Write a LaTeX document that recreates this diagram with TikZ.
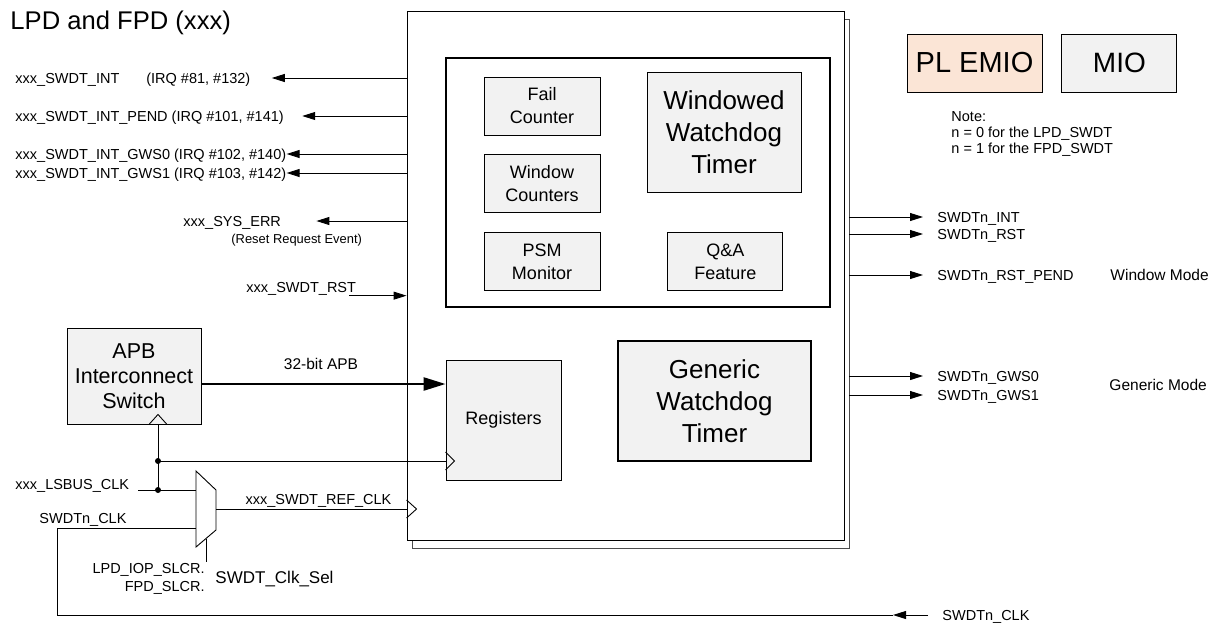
\documentclass[tikz,border=0pt]{standalone}
\usepackage{fontspec}
\setmainfont{Liberation Sans}
\usetikzlibrary{positioning,calc,arrows.meta}
\definecolor{boxgray}{HTML}{F2F2F2}
\definecolor{emiopeach}{HTML}{FBE5D6}

\begin{document}
\begin{tikzpicture}[x=1pt, y=-1pt, line width=0.9pt,
  every node/.style={font=\fontsize{14.5}{17}\selectfont},
  blk/.style={draw, fill=boxgray, align=center, inner sep=0pt, font=\fontsize{18}{23}\selectfont},
  sub/.style={blk, minimum width=116pt, minimum height=58pt},
  lbl/.style={inner sep=0pt, text height=10.4pt, text depth=0pt},
  arr/.style={-{Triangle[length=13pt,width=8pt]}},
  bus/.style={line width=2.5pt, -{Triangle[length=22pt,width=13pt]}}]
  \useasboundingbox (0,0) rectangle (1222,624);
  \node[lbl, anchor=west, font=\fontsize{25.6}{30}\selectfont, text height=18.2pt] (title) at (10,20) {LPD and FPD (xxx)};

  \node[draw=black!70, minimum width=437pt, minimum height=529pt] (mainbk) at (630.5,283.5) {};
  \node[draw, fill=white, minimum width=437pt, minimum height=529pt] (main) at (625.5,275.5) {};
  \node[draw, line width=1.8pt, minimum width=384pt, minimum height=249pt] (wwin) at (638,182.5) {};
  \node[sub] (failc) at (542,106) {Fail\\Counter};
  \node[sub, below=19pt of failc] (winc) {Window\\Counters};
  \node[sub, below=19pt of winc] (psm) {PSM\\Monitor};
  \node[sub, minimum width=115pt, right=67pt of psm] (qa) {Q\&A\\Feature};
  \node[blk, minimum width=154pt, minimum height=120pt, font=\fontsize{26}{32}\selectfont] (wwdt) at (724,132) {Windowed\\Watchdog\\Timer};
  \node[blk, minimum width=115pt, minimum height=120pt] (reg) at (503.5,420) {Registers};
  \node[blk, line width=1.8pt, minimum width=193pt, minimum height=120pt, font=\fontsize{26}{32}\selectfont] (gwdt) at (714.5,401) {Generic\\Watchdog\\Timer};
  \node[blk, minimum width=134pt, minimum height=96pt, font=\fontsize{21.5}{25}\selectfont] (apb) at (134,376) {APB\\Interconnect\\Switch};
  \node[blk, fill=emiopeach, minimum width=135pt, minimum height=58pt, font=\fontsize{29}{34}\selectfont] (emio) at (974.5,63) {PL EMIO};
  \node[blk, minimum width=115pt, minimum height=58pt, font=\fontsize{28}{34}\selectfont, right=19pt of emio] (mio) {MIO};
  \node[anchor=west, align=left, inner sep=0pt, font=\fontsize{14.5}{16}\selectfont] (note) at (951,134) {Note:\\n = 0 for the LPD\_SWDT\\n = 1 for the FPD\_SWDT};

  \node[lbl, anchor=west] (iINT) at (15,78) {xxx\_SWDT\_INT\hspace{27pt}(IRQ \#81, \#132)};
  \node[lbl, anchor=west] (iPEND) at (15,116) {xxx\_SWDT\_INT\_PEND (IRQ \#101, \#141)};
  \node[lbl, anchor=west] (iGWS0) at (15,154) {xxx\_SWDT\_INT\_GWS0 (IRQ \#102, \#140)};
  \node[lbl, anchor=west] (iGWS1) at (15,173) {xxx\_SWDT\_INT\_GWS1 (IRQ \#103, \#142)};
  \node[lbl, anchor=west] (iERR) at (183,221) {xxx\_SYS\_ERR};
  \node[lbl, anchor=west, font=\fontsize{12.9}{15}\selectfont, text height=9.2pt] (iREQ) at (231,239) {(Reset Request Event)};
  \node[lbl, anchor=west] (iRST) at (246,287) {xxx\_SWDT\_RST};
  \draw[arr, shorten >=21pt] (main.west |- iINT) -- (iINT.east);
  \draw[arr, shorten >=18pt] (main.west |- iPEND) -- (iPEND.east);
  \draw[arr] (main.west |- iGWS0) -- (iGWS0.east);
  \draw[arr] (main.west |- iGWS1) -- (iGWS1.east);
  \draw[arr, shorten >=35pt] (main.west |- iERR) -- (iERR.east);
  \coordinate (rstA) at ($(iRST.south east)+(-7,3)$);
  \draw[arr] (rstA) -- (rstA -| main.west);

  \node[lbl, anchor=west] (oINT) at (937,217) {SWDTn\_INT};
  \node[lbl, anchor=west] (oRST) at (937,234) {SWDTn\_RST};
  \node[lbl, anchor=west] (oPEND) at (937,275) {SWDTn\_RST\_PEND};
  \node[lbl, anchor=west] (oGWS0) at (937,376) {SWDTn\_GWS0};
  \node[lbl, anchor=west] (oGWS1) at (937,395) {SWDTn\_GWS1};
  \node[lbl, anchor=west, font=\fontsize{15.5}{18}\selectfont, text height=11.1pt] (wmode) at (1110,275) {Window Mode};
  \node[lbl, anchor=west, font=\fontsize{15.5}{18}\selectfont, text height=11.1pt] (gmode) at (1109,385) {Generic Mode};
  \draw[arr, shorten >=14pt] (mainbk.east |- oINT) -- (oINT.west);
  \draw[arr, shorten >=14pt] (mainbk.east |- oRST) -- (oRST.west);
  \draw[arr, shorten >=14pt] (mainbk.east |- oPEND) -- (oPEND.west);
  \draw[arr, shorten >=14pt] (mainbk.east |- oGWS0) -- (oGWS0.west);
  \draw[arr, shorten >=14pt] (mainbk.east |- oGWS1) -- (oGWS1.west);

  \node[lbl, font=\fontsize{15.5}{18}\selectfont, text height=11.1pt] (buslbl) at (321,364) {32-bit APB};
  \coordinate (busA) at ($(apb.east)+(0,8)$);
  \draw[bus] (busA) -- (busA -| reg.west);

  \node[lbl, anchor=west] (iLS) at (15,484) {xxx\_LSBUS\_CLK};
  \node[lbl, anchor=west] (iSW) at (39,518) {SWDTn\_CLK};
  \node[lbl, anchor=east] (slcr1) at (205,568) {LPD\_IOP\_SLCR.};
  \node[lbl, anchor=east] (slcr2) at (205,586) {FPD\_SLCR.};
  \node[lbl, anchor=west, font=\fontsize{17}{20}\selectfont, text height=12.2pt] (csel) at (215,577) {SWDT\_Clk\_Sel};
  \node[lbl] (refclk) at (318.5,499) {xxx\_SWDT\_REF\_CLK};
  \node[lbl, anchor=west] (oCLK) at (942,615) {SWDTn\_CLK};
  \coordinate (dotA) at (158,461);
  \coordinate (dotB) at (158,490);
  \coordinate (lsA) at (138,490);
  \coordinate (min1) at (196,490);
  \coordinate (min2) at (196,528);
  \coordinate (mout) at (216,509);
  \coordinate (msel) at (206,538.5);
  \coordinate (clkM) at (893,615);
  \coordinate (clkC) at (57,615);
  \draw[fill=white] (196,471) -- (216,490) -- (216,530) -- (196,547) -- cycle;
  \draw (msel) -- ++(0,23);
  \draw (dotB) -- (dotB |- apb.south);
  \draw (dotB |- apb.south) ++(-9,0) -- ++(9,-10) -- ++(9,10);
  \draw (dotA) -- (dotA -| reg.west);
  \draw (dotA -| reg.west) ++(0,-9) -- ++(9,9) -- ++(-9,9);
  \fill (dotA) circle (3pt); \fill (dotB) circle (3pt);
  \draw (lsA) -- (min1);
  \draw (clkM) -- (clkC) |- (min2);
  \draw[arr, shorten <=14pt] (oCLK.west) -- (clkM);
  \draw (mout) -- (mout -| main.west);
  \draw (mout -| main.west) ++(0,-9) -- ++(10,9) -- ++(-10,9);
\end{tikzpicture}
\end{document}
